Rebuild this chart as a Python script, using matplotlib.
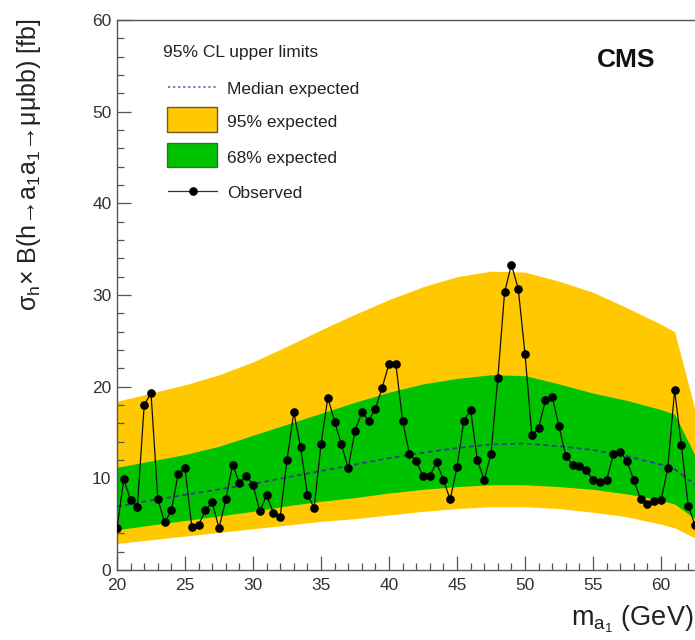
import matplotlib
matplotlib.use("Agg")
import matplotlib.pyplot as plt
from matplotlib.lines import Line2D
from matplotlib.patches import Rectangle
from matplotlib.ticker import MultipleLocator
import numpy as np

plt.rcParams['font.family'] = ['Liberation Sans', 'DejaVu Sans']
plt.rcParams['mathtext.fontset'] = 'custom'
plt.rcParams['mathtext.rm'] = 'Liberation Sans'
plt.rcParams['mathtext.it'] = 'Liberation Sans:italic'
plt.rcParams['mathtext.bf'] = 'Liberation Sans:bold'
plt.rcParams['mathtext.default'] = 'regular'

# ---- data ----
mass_obs = [20.0 + 0.5 * i for i in range(86)]
observed = [4.55, 9.9, 7.6, 6.9, 18.0, 19.3, 7.8, 5.2, 6.5, 10.5,
            11.1, 4.7, 4.9, 6.5, 7.4, 4.55, 7.7, 11.5, 9.5, 10.3,
            9.3, 6.4, 8.2, 6.2, 5.8, 12.0, 17.2, 13.4, 8.2, 6.8,
            13.7, 18.8, 16.2, 13.7, 11.1, 15.2, 17.2, 16.3, 17.6, 19.9,
            22.5, 22.5, 16.3, 12.65, 11.9, 10.25, 10.25, 11.75, 9.8, 7.7,
            11.2, 16.25, 17.45, 12.0, 9.8, 12.7, 20.9, 30.3, 33.3, 30.7,
            23.6, 14.7, 15.5, 18.5, 18.9, 15.7, 12.4, 11.5, 11.35, 10.9,
            9.8, 9.6, 9.8, 12.65, 12.9, 11.9, 9.8, 7.75, 7.2, 7.56,
            7.6, 11.1, 19.6, 13.6, 7.0, 4.9]

mass_exp = [20, 22.5, 25, 27.5, 30, 32.5, 35, 37.5, 40, 42.5,
            45, 47.5, 50, 52.5, 55, 57.5, 60, 61, 62.5]
exp_95_up = [18.4, 19.3, 20.2, 21.3, 22.7, 24.4, 26.2, 27.9, 29.5, 30.9,
             32.0, 32.6, 32.5, 31.5, 30.3, 28.6, 26.8, 26.0, 17.5]
exp_68_up = [11.2, 11.9, 12.6, 13.5, 14.7, 15.9, 17.1, 18.3, 19.4, 20.3,
             20.9, 21.3, 21.2, 20.3, 19.3, 18.5, 17.5, 17.0, 12.5]
exp_median = [6.9, 7.6, 8.2, 8.8, 9.4, 10.1, 10.8, 11.5, 12.2, 12.8,
              13.3, 13.7, 13.8, 13.5, 13.1, 12.4, 11.5, 11.0, 9.3]
exp_68_dn = [4.4, 4.9, 5.4, 5.9, 6.4, 7.0, 7.5, 7.9, 8.4, 8.8,
             9.1, 9.3, 9.3, 9.1, 8.8, 8.3, 7.6, 7.2, 5.6]
exp_95_dn = [2.9, 3.3, 3.7, 4.1, 4.5, 4.9, 5.3, 5.6, 6.0, 6.4,
             6.7, 6.9, 6.9, 6.7, 6.3, 5.8, 5.0, 4.6, 3.5]

x_ticks = [20, 25, 30, 35, 40, 45, 50, 55, 60]
y_ticks = [0, 10, 20, 30, 40, 50, 60]

YELLOW = '#ffc800'
GREEN = '#00c300'
MEDIAN = '#2e3f85'

W, H = 695, 640
fig = plt.figure(figsize=(W / 100, H / 100), dpi=100)
px_per_unit = 13.6
ax = fig.add_axes([117 / W, 70 / H, 45 * px_per_unit / W, 550 / H])
ax.set_xlim(20, 65)
ax.set_ylim(0, 60)

ax.fill_between(mass_exp, exp_95_dn, exp_95_up, color=YELLOW, lw=0, zorder=1)
ax.fill_between(mass_exp, exp_68_dn, exp_68_up, color=GREEN, lw=0, zorder=2)
ax.plot(mass_exp, exp_median, color=MEDIAN, lw=1.3, ls=(0, (2.6, 2.0)), zorder=3)
ax.plot(mass_obs, observed, color='#111111', lw=0.9, marker='o', ms=5.2,
        mfc='black', mec='black', zorder=4, clip_on=True)

ax.set_xticks(x_ticks)
ax.set_yticks(y_ticks)
ax.xaxis.set_minor_locator(MultipleLocator(1))
ax.yaxis.set_minor_locator(MultipleLocator(2))
ax.tick_params(which='both', direction='in', top=False, right=False,
               color='#555555', width=0.9, labelcolor='#333333', labelsize=12.5)
ax.tick_params(which='major', length=10)
ax.tick_params(which='minor', length=5)
ax.tick_params(axis='x', which='major', pad=6)
ax.tick_params(axis='y', which='major', pad=4)
for s in ['left', 'bottom', 'top']:
    ax.spines[s].set_color('#555555')
    ax.spines[s].set_linewidth(1.0)
ax.spines['right'].set_visible(False)

def fx(p):
    return p / W

def fy(p):
    return 1 - p / H

# axis titles
fig.text(fx(29), fy(18), 'σ$_h$× B(h→a$_1$a$_1$→μμbb) [fb]', rotation=90,
         ha='center', va='top', fontsize=18, color='#222222')
fig.text(fx(693), fy(625), 'm$_{a_1}$ (GeV)', ha='right', va='baseline',
         fontsize=19.5, color='#222222')

# CMS label
fig.text(fx(597), fy(67), 'CMS', ha='left', va='baseline', fontsize=19,
         fontweight='bold', color='#111111')

# legend (manual)
lfs = 12.5
fig.text(fx(163), fy(57), '95% CL upper limits', ha='left', va='baseline',
         fontsize=lfs, color='#222222')
fig.add_artist(Line2D([fx(168), fx(217)], [fy(87), fy(87)], color='#6b6bb0',
                      lw=1.3, ls=(0, (1.2, 1.6))))
fig.text(fx(227), fy(94), 'Median expected', ha='left', va='baseline',
         fontsize=lfs, color='#222222')
fig.add_artist(Rectangle((fx(167), fy(132)), 50 / W, 25 / H, facecolor=YELLOW,
                         edgecolor='#6b5a2a', lw=1.0))
fig.text(fx(227), fy(127), '95% expected', ha='left', va='baseline',
         fontsize=lfs, color='#222222')
fig.add_artist(Rectangle((fx(167), fy(167)), 50 / W, 24 / H, facecolor=GREEN,
                         edgecolor='#3a6a3a', lw=1.0))
fig.text(fx(227), fy(163), '68% expected', ha='left', va='baseline',
         fontsize=lfs, color='#222222')
fig.add_artist(Line2D([fx(168), fx(217)], [fy(191), fy(191)], color='#333333',
                      lw=0.9))
fig.add_artist(Line2D([fx(192.5)], [fy(191)], color='black', marker='o', ms=5.2,
                      lw=0))
fig.text(fx(227), fy(198), 'Observed', ha='left', va='baseline',
         fontsize=lfs, color='#222222')

fig.savefig('out.png', dpi=100)
